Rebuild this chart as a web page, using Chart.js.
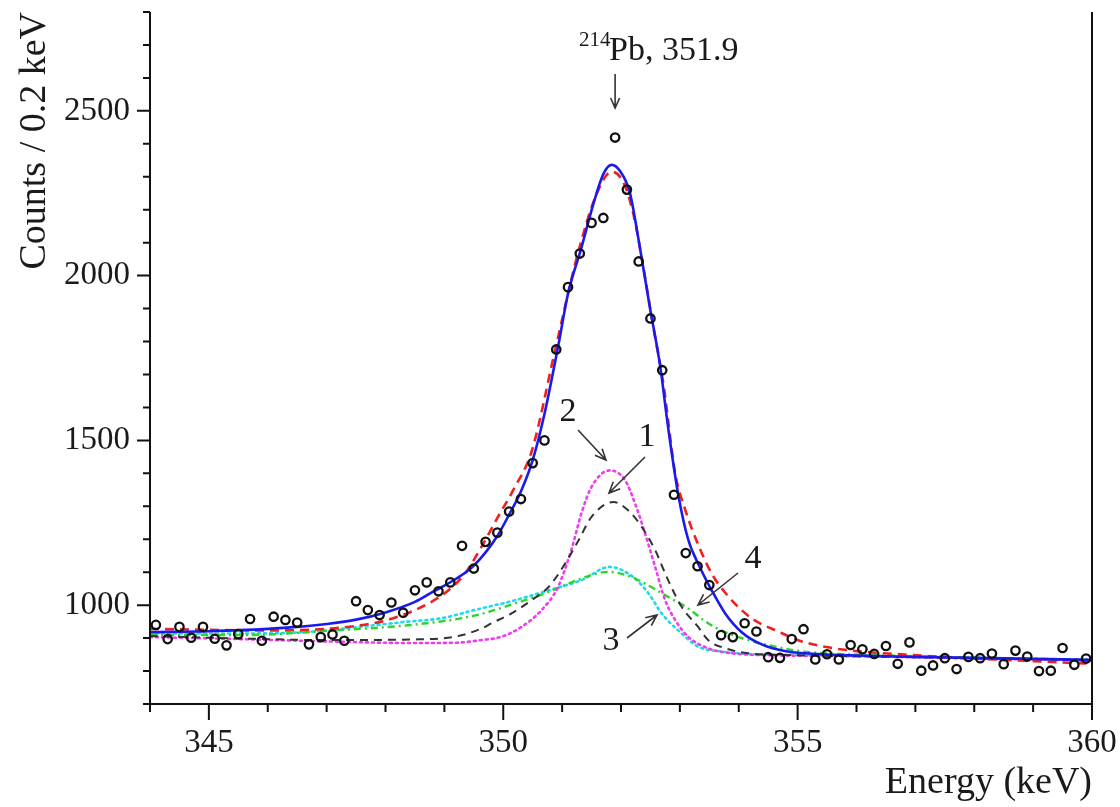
<!DOCTYPE html>
<html>
<head>
<meta charset="utf-8">
<title>214Pb 351.9 keV peak</title>
<script src="https://cdn.jsdelivr.net/npm/chart.js@4.4.1/dist/chart.umd.min.js"></script>
<style>
  html, body { margin: 0; padding: 0; background: #fff; }
  #wrap { width: 1120px; height: 807px; }
</style>
</head>
<body>
<div id="wrap"><canvas id="spectrum" width="1120" height="807"></canvas></div>
<script>
// measured spectrum, 0.2 keV bins (bin centres)
const energy = [
  344.1, 344.3, 344.5, 344.7, 344.9, 345.1, 345.3, 345.5, 345.7, 345.9,
  346.1, 346.3, 346.5, 346.7, 346.9, 347.1, 347.3, 347.5, 347.7, 347.9,
  348.1, 348.3, 348.5, 348.7, 348.9, 349.1, 349.3, 349.5, 349.7, 349.9,
  350.1, 350.3, 350.5, 350.7, 350.9, 351.1, 351.3, 351.5, 351.7, 351.9,
  352.1, 352.3, 352.5, 352.7, 352.9, 353.1, 353.3, 353.5, 353.7, 353.9,
  354.1, 354.3, 354.5, 354.7, 354.9, 355.1, 355.3, 355.5, 355.7, 355.9,
  356.1, 356.3, 356.5, 356.7, 356.9, 357.1, 357.3, 357.5, 357.7, 357.9,
  358.1, 358.3, 358.5, 358.7, 358.9, 359.1, 359.3, 359.5, 359.7, 359.9
];
const counts = [
  940, 897, 934, 901, 934, 898, 878, 912, 958, 892,
  965, 955, 947, 881, 903, 911, 892, 1012, 985, 970,
  1008, 977, 1045, 1069, 1042, 1069, 1180, 1111, 1192, 1220,
  1284, 1322, 1431, 1500, 1776, 1965, 2067, 2160, 2175, 2419,
  2261, 2043, 1870, 1713, 1335, 1158, 1118, 1061, 909, 903,
  945, 920, 842, 840, 897, 927, 835, 851, 835, 879,
  866, 852, 876, 822, 887, 801, 817, 839, 806, 843,
  839, 853, 821, 862, 844, 800, 801, 870, 819, 838
];

// total fit (solid blue)
const totalE = [344.0, 345.0, 346.0, 346.5, 347.0, 347.5, 348.0, 348.5, 348.8, 349.2, 349.5, 349.9, 350.1, 350.3, 350.5, 350.7, 350.93, 351.1, 351.33, 351.53, 351.7, 351.84, 351.98, 352.15, 352.32, 352.49, 352.66, 352.8, 352.97, 353.14, 353.34, 353.54, 353.77, 354.05, 354.4, 354.8, 355.4, 356.0, 357.0, 358.0, 359.0, 360.0];
const totalC = [918, 921, 928, 934, 943, 956, 978, 1010, 1040, 1080, 1120, 1210, 1275, 1345, 1440, 1580, 1783, 1945, 2086, 2217, 2308, 2336, 2318, 2252, 2086, 1904, 1732, 1540, 1338, 1200, 1115, 1045, 975, 918, 880, 860, 851, 847, 843, 840, 837, 834];

// alternative fit (dashed red)
const altE = [344.0, 345.0, 346.0, 347.0, 347.5, 347.93, 348.21, 348.5, 348.78, 349.07, 349.35, 349.63, 349.91, 350.2, 350.48, 350.88, 351.28, 351.61, 351.84, 352.04, 352.21, 352.38, 352.55, 352.72, 352.92, 353.09, 353.32, 353.54, 353.83, 354.22, 354.67, 355.07, 355.52, 355.92, 357.0, 358.0, 359.0, 360.0];
const altC = [928, 925, 923, 928, 937, 950, 965, 985, 1010, 1045, 1096, 1177, 1268, 1359, 1465, 1773, 2076, 2258, 2315, 2283, 2187, 2025, 1843, 1672, 1400, 1290, 1180, 1096, 1025, 960, 920, 890, 872, 862, 848, 838, 830, 822];

// component 1 (black dashed)
const comp1E = [344.0, 345.5, 347.0, 348.5, 349.2, 349.63, 349.8, 350.14, 350.48, 350.77, 351.05, 351.28, 351.5, 351.87, 352.12, 352.35, 352.58, 352.8, 353.03, 353.31, 353.48, 353.77, 354.16, 355.0, 357.0, 360.0];
const comp1C = [906, 899, 894, 896, 905, 929, 945, 975, 1015, 1055, 1126, 1197, 1268, 1313, 1288, 1238, 1167, 1076, 995, 934, 894, 869, 854, 848, 842, 832];

// component 2 (magenta dotted)
const comp2E = [344.0, 345.5, 347.0, 348.5, 349.2, 349.63, 349.97, 350.31, 350.65, 350.93, 351.16, 351.33, 351.5, 351.81, 352.07, 352.24, 352.41, 352.58, 352.75, 352.92, 353.14, 353.48, 353.88, 354.5, 356.0, 358.0, 360.0];
const comp2C = [903, 897, 890, 885, 886, 894, 904, 934, 985, 1055, 1170, 1280, 1359, 1409, 1379, 1308, 1217, 1116, 1015, 955, 904, 869, 854, 848, 845, 838, 832];

// component 3 (cyan dotted)
const comp3E = [344.0, 345.5, 346.7, 347.8, 348.38, 348.94, 349.51, 350.2, 350.77, 351.33, 351.81, 352.2, 352.47, 352.69, 353.03, 353.31, 353.71, 354.16, 355.0, 357.0, 360.0];
const comp3C = [914, 914, 919, 939, 950, 960, 985, 1015, 1045, 1076, 1116, 1086, 1035, 975, 914, 874, 859, 852, 849, 843, 833];

// component 4 (green dash-dot)
const comp4E = [344.0, 345.55, 347.17, 348.38, 349.51, 350.2, 350.77, 351.33, 351.78, 352.17, 352.45, 352.8, 353.14, 353.48, 353.82, 354.16, 354.62, 355.1, 355.7, 357.0, 360.0];
const comp4C = [910, 909, 924, 939, 968, 1005, 1040, 1081, 1101, 1086, 1061, 1025, 990, 945, 914, 894, 874, 859, 852, 845, 834];

const peakEnergy = 351.9;
const xMin = 344, xMax = 360;
const yMin = 700, yMax = 2800;

const serif = '"Liberation Serif", "Times New Roman", serif';
const ink = '#1a1a1a';

const pts = (xs, ys) => xs.map((v, i) => ({ x: v, y: ys[i] }));

function curve(label, xs, ys, color, dash, width, order) {
  return {
    label,
    data: pts(xs, ys),
    showLine: true,
    borderColor: color,
    borderWidth: width,
    borderDash: dash,
    borderCapStyle: dash.length && dash[0] <= 2 ? 'round' : 'butt',
    pointRadius: 0,
    cubicInterpolationMode: 'monotone',
    tension: 0.4,
    fill: false,
    order
  };
}

// axis lines, major/minor tick marks and axis titles
const frame = {
  id: 'frame',
  afterDraw(chart) {
    const { ctx, chartArea: a, scales: { x, y } } = chart;
    ctx.save();
    ctx.strokeStyle = '#111';
    ctx.lineWidth = 2;
    ctx.beginPath();
    ctx.moveTo(a.left, a.top);
    ctx.lineTo(a.left, a.bottom);
    ctx.lineTo(a.right, a.bottom);
    ctx.lineTo(a.right, a.top);
    for (let v = yMin; v <= yMax; v += 100) {
      const py = y.getPixelForValue(v);
      const len = v % 500 === 0 ? 13 : 7;
      ctx.moveTo(a.left - len, py);
      ctx.lineTo(a.left, py);
    }
    for (let v = xMin; v <= xMax; v += 1) {
      const px = x.getPixelForValue(v);
      const len = v % 5 === 0 ? 16 : 8;
      ctx.moveTo(px, a.bottom);
      ctx.lineTo(px, a.bottom + len);
    }
    ctx.stroke();

    ctx.fillStyle = ink;
    ctx.font = '38px ' + serif;
    ctx.textBaseline = 'middle';
    ctx.textAlign = 'right';
    ctx.fillText('Energy (keV)', a.right, 783);
    ctx.translate(35, a.top);
    ctx.rotate(-Math.PI / 2);
    ctx.fillText('Counts / 0.2 keV', 0, 0);
    ctx.restore();
  }
};

function arrow(ctx, x0, y0, x1, y1, head) {
  const ang = Math.atan2(y1 - y0, x1 - x0);
  ctx.beginPath();
  ctx.moveTo(x0, y0);
  ctx.lineTo(x1, y1);
  ctx.moveTo(x1 - head * Math.cos(ang - 0.42), y1 - head * Math.sin(ang - 0.42));
  ctx.lineTo(x1, y1);
  ctx.lineTo(x1 - head * Math.cos(ang + 0.42), y1 - head * Math.sin(ang + 0.42));
  ctx.stroke();
}

// peak label and component markers
const notes = {
  id: 'notes',
  afterDraw(chart) {
    const { ctx, scales: { x } } = chart;
    const px = x.getPixelForValue(peakEnergy);
    ctx.save();
    ctx.fillStyle = ink;
    ctx.strokeStyle = '#333';
    ctx.lineWidth = 1.6;
    ctx.textBaseline = 'alphabetic';
    ctx.textAlign = 'left';
    ctx.font = '21px ' + serif;
    ctx.fillText('214', px - 36, 46);
    ctx.font = '34px ' + serif;
    ctx.fillText('Pb, 351.9', px - 6, 60);
    arrow(ctx, px, 74, px, 108, 11);

    ctx.font = '34px ' + serif;
    ctx.textAlign = 'center';
    ctx.textBaseline = 'middle';
    ctx.fillText('2', 568, 412);
    ctx.fillText('1', 647, 437);
    ctx.fillText('4', 753, 559);
    ctx.fillText('3', 611, 641);
    arrow(ctx, 578, 430, 606, 460, 12);
    arrow(ctx, 645, 457, 609, 493, 12);
    arrow(ctx, 738, 573, 698, 605, 12);
    arrow(ctx, 627, 638, 657, 615, 12);
    ctx.restore();
  }
};

new Chart(document.getElementById('spectrum'), {
  type: 'scatter',
  data: {
    datasets: [
      {
        label: 'data',
        data: pts(energy, counts),
        pointStyle: 'circle',
        pointRadius: 4.2,
        pointBorderWidth: 2.3,
        pointBorderColor: '#111',
        pointBackgroundColor: 'rgba(0,0,0,0)',
        showLine: false,
        order: 0
      },
      curve('total', totalE, totalC, '#1a1af0', [], 2.6, 1),
      curve('alt', altE, altC, '#f02020', [9, 6], 2.6, 2),
      curve('1', comp1E, comp1C, '#333333', [8, 6], 2, 3),
      curve('2', comp2E, comp2C, '#f03cf0', [2, 4], 2.6, 4),
      curve('4', comp4E, comp4C, '#2ad62a', [7, 4, 2, 4], 2.4, 5),
      curve('3', comp3E, comp3C, '#22d8f0', [2, 4], 2.6, 6)
    ]
  },
  options: {
    responsive: false,
    devicePixelRatio: 1,
    animation: false,
    layout: { padding: { top: 12, right: 28, left: 0, bottom: 0 } },
    plugins: {
      legend: { display: false },
      tooltip: { enabled: false }
    },
    scales: {
      x: {
        type: 'linear',
        min: xMin,
        max: xMax,
        afterFit: s => { s.height = 103; s.paddingLeft = 0; s.paddingRight = 0; },
        grid: { display: false, drawTicks: false },
        border: { display: false },
        ticks: {
          stepSize: 1,
          padding: 20,
          color: ink,
          font: { family: serif, size: 33 },
          maxRotation: 0,
          autoSkip: false,
          callback: v => (v % 5 === 0 ? String(v) : '')
        }
      },
      y: {
        type: 'linear',
        min: yMin,
        max: yMax,
        afterFit: s => { s.width = 150; s.paddingTop = 0; s.paddingBottom = 0; },
        grid: { display: false, drawTicks: false },
        border: { display: false },
        ticks: {
          stepSize: 100,
          padding: 20,
          color: ink,
          font: { family: serif, size: 33 },
          autoSkip: false,
          callback: v => (v % 500 === 0 ? String(v) : '')
        }
      }
    }
  },
  plugins: [frame, notes]
});
</script>
</body>
</html>
